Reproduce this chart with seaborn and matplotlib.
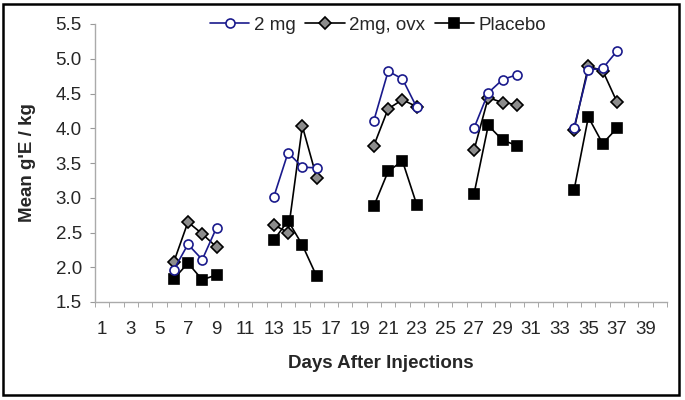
import matplotlib
matplotlib.use("Agg")
import matplotlib.pyplot as plt
from matplotlib.lines import Line2D
from matplotlib.patches import Rectangle
import pandas as pd
import seaborn as sns

# data
days = [6, 7, 8, 9, 13, 14, 15, 16, 20, 21, 22, 23, 27, 28, 29, 30, 34, 35, 36, 37]
block = [1, 1, 1, 1, 2, 2, 2, 2, 3, 3, 3, 3, 4, 4, 4, 4, 5, 5, 5, 5]
mg2 = [1.96, 2.33, 2.11, 2.57, 3.01, 3.65, 3.44, 3.43, 4.11, 4.82, 4.71, 4.30,
       4.00, 4.51, 4.70, 4.77, 4.01, 4.84, 4.86, 5.11]
mg2_ovx = [2.07, 2.65, 2.48, 2.29, 2.61, 2.50, 4.03, 3.29, 3.75, 4.28, 4.41, 4.31,
           3.68, 4.44, 4.37, 4.34, 3.98, 4.89, 4.83, 4.38]
placebo = [1.83, 2.06, 1.82, 1.89, 2.39, 2.67, 2.32, 1.87, 2.88, 3.38, 3.53, 2.90,
           3.05, 4.04, 3.83, 3.75, 3.11, 4.16, 3.78, 4.00]
x_ticks = list(range(1, 40, 2))
y_ticks = [1.5, 2.0, 2.5, 3.0, 3.5, 4.0, 4.5, 5.0, 5.5]

df = pd.DataFrame({"day": days, "block": block, "2 mg": mg2,
                   "2mg, ovx": mg2_ovx, "Placebo": placebo})

sns.set_style("white")
plt.rcParams['font.family'] = ['Liberation Sans', 'DejaVu Sans']

fig = plt.figure(figsize=(6.85, 4), dpi=100)
ax = fig.add_axes([0.1387, 0.245, 0.835, 0.695])

styles = {
    "2 mg": dict(color="#1a1a8c", marker="o", markerfacecolor="white",
                 markeredgecolor="#1a1a8c", markersize=6.5),
    "2mg, ovx": dict(color="black", marker="D", markerfacecolor="#8c8c8c",
                     markeredgecolor="black", markersize=6),
    "Placebo": dict(color="black", marker="s", markerfacecolor="black",
                    markeredgecolor="black", markersize=7),
}

for name in ["Placebo", "2mg, ovx", "2 mg"]:
    st = styles[name]
    sns.lineplot(x="day", y=name, data=df, units="block", estimator=None, ax=ax,
                 color=st["color"], marker=st["marker"], markersize=st["markersize"],
                 markerfacecolor=st["markerfacecolor"], markeredgecolor=st["markeredgecolor"],
                 markeredgewidth=1.2, linewidth=1.2)

ax.set_xlim(0.5, 40.5)
ax.set_ylim(1.5, 5.5)
ax.set_xticks(x_ticks)
ax.set_xticks([i + 0.5 for i in range(0, 41)], minor=True)
ax.set_yticks(y_ticks)
ax.set_yticklabels([f"{v:.1f}" for v in y_ticks])
ax.tick_params(axis="x", which="major", length=0, labelsize=13.5, pad=14)
ax.tick_params(axis="x", which="minor", length=3.5, color="#999999", direction="out", bottom=True)
ax.tick_params(axis="y", length=3.5, color="#999999", direction="out", left=True, labelsize=13.5, pad=6)

for s in ["top", "right"]:
    ax.spines[s].set_visible(False)
for s in ["left", "bottom"]:
    ax.spines[s].set_color("#aaaaaa")
    ax.spines[s].set_linewidth(1.0)

ax.set_xlabel("Days After Injections", fontsize=13.5, fontweight="bold", labelpad=12)
ax.set_ylabel("Mean g'E / kg", fontsize=13.5, fontweight="bold", labelpad=14)

handles = [Line2D([], [], linewidth=1.2, markeredgewidth=1.2, **styles[n]) for n in ["2 mg", "2mg, ovx", "Placebo"]]
ax.legend(handles, ["2 mg", "2mg, ovx", "Placebo"], loc="center", bbox_to_anchor=(0.495, 0.995),
          ncol=3, frameon=False, fontsize=13.5, handlelength=2.1, columnspacing=0.5,
          handletextpad=0.25, borderpad=0, borderaxespad=0)

# chart frame
fig.patches.append(Rectangle((0.0044, 0.0125), 0.9868, 0.9775, transform=fig.transFigure,
                             fill=False, edgecolor="black", linewidth=1.8))

fig.savefig("out.png", dpi=100)
